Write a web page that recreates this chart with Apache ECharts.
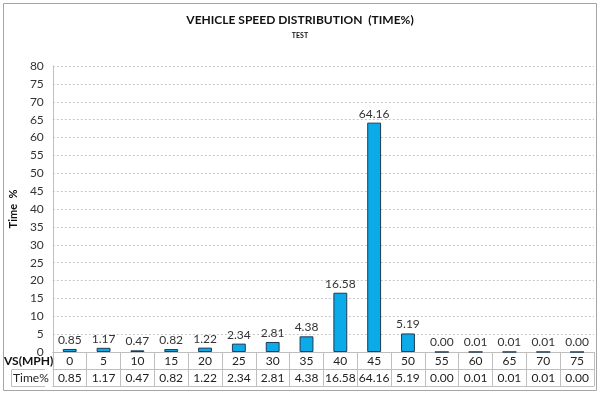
<!DOCTYPE html>
<html>
<head>
<meta charset="utf-8">
<script src="https://cdn.jsdelivr.net/npm/echarts@6/dist/echarts.min.js"></script>
<style>
html,body{margin:0;padding:0;background:#fff;}
#c{width:600px;height:393px;}
</style>
</head>
<body>
<div id="c"></div>
<script>
var speeds = ['0','5','10','15','20','25','30','35','40','45','50','55','60','65','70','75'];
var timePct = [0.85,1.17,0.47,0.82,1.22,2.34,2.81,4.38,16.58,64.16,5.19,0.00,0.01,0.01,0.01,0.00];
var yTicks = {min:0, max:80, interval:5};

var FONT = 'Lato';
var chart = echarts.init(document.getElementById('c'));
var lineCol = '#bfbfbf';
chart.setOption({
  animation:false,
  textStyle:{fontFamily:FONT},
  title:[
    {text:'VEHICLE SPEED DISTRIBUTION  (TIME%)', left:'center', top:9,
     textStyle:{fontFamily:FONT, fontSize:12, fontWeight:'bold', color:'#111'}},
    {text:'TEST', left:'center', top:27,
     textStyle:{fontFamily:FONT, fontSize:7, fontWeight:'bold', color:'#111'}}
  ],
  grid:{left:45, right:6, top:66, bottom:41, containLabel:false},
  xAxis:[
    {type:'category', data:speeds, position:'bottom',
     axisLine:{show:true, lineStyle:{color:lineCol, width:1}},
     axisTick:{show:true, interval:0, length:34, lineStyle:{color:lineCol}},
     axisLabel:{interval:0, fontSize:12, color:'#222', margin:3, fontFamily:FONT},
     splitLine:{show:false}},
    {type:'category', data:speeds, position:'bottom', offset:17,
     axisLine:{show:true, lineStyle:{color:lineCol, width:1}},
     axisTick:{show:false},
     axisLabel:{interval:0, fontSize:12, color:'#222', margin:3, fontFamily:FONT,
       formatter:function(v, i){ return timePct[i].toFixed(2); }}},
    {type:'category', data:speeds, position:'bottom', offset:34,
     axisLine:{show:true, lineStyle:{color:lineCol, width:1}},
     axisTick:{show:false}, axisLabel:{show:false}}
  ],
  yAxis:{type:'value', min:yTicks.min, max:yTicks.max, interval:yTicks.interval,
    name:'Time  %', nameLocation:'middle', nameGap:31, nameRotate:90,
    nameTextStyle:{fontFamily:FONT, fontSize:11, fontWeight:'bold', color:'#111'},
    axisLine:{show:true, lineStyle:{color:lineCol}},
    axisTick:{show:false},
    axisLabel:{fontSize:12, color:'#333', margin:9, fontFamily:FONT},
    splitLine:{show:true, lineStyle:{color:'#c8c8c8', type:[2,2], width:1}}
  },
  series:[{
    type:'bar', data:timePct, barWidth:'41%', xAxisIndex:0,
    itemStyle:{color:'#0BAAE8', borderColor:'#203a52', borderWidth:1},
    label:{show:true, position:'top', distance:3, fontSize:12, color:'#333', fontFamily:FONT,
      formatter:function(p){ return p.value.toFixed(2); }}
  }],
  graphic:[
    {type:'rect', shape:{x:3.5, y:3.5, width:593, height:387}, style:{fill:null, stroke:'#a6a6a6', lineWidth:1}, silent:true, z:-1},
    {type:'line', shape:{x1:11.5, y1:369.5, x2:45, y2:369.5}, style:{stroke:lineCol, lineWidth:1}},
    {type:'line', shape:{x1:11.5, y1:386.5, x2:45, y2:386.5}, style:{stroke:lineCol, lineWidth:1}},
    {type:'line', shape:{x1:11.5, y1:369.5, x2:11.5, y2:386.5}, style:{stroke:lineCol, lineWidth:1}},
    {type:'text', left:4, top:355, style:{text:'VS(MPH)', font:'bold 12px Lato', fill:'#111'}},
    {type:'text', left:13, top:372, style:{text:'Time%', font:'12px Lato', fill:'#222'}}
  ]
});
</script>
</body>
</html>
